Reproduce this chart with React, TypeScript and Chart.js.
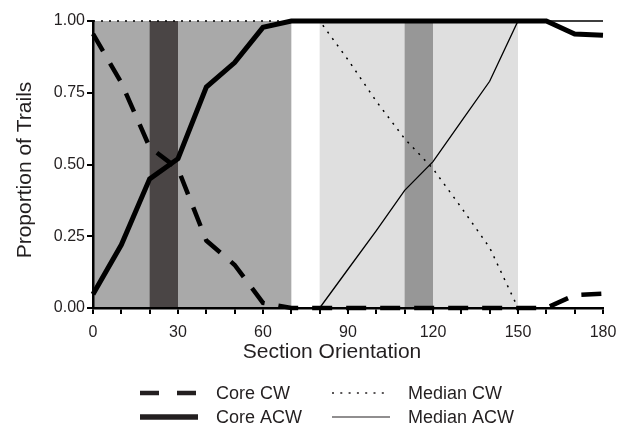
import React, { useEffect, useRef } from "react";
import { Chart, registerables } from "chart.js";

Chart.register(...registerables);

const xValues = [0, 10, 20, 30, 40, 50, 60, 70, 80, 90, 100, 110, 120, 130, 140, 150, 160, 170, 180];
const coreCW = [0.955, 0.785, 0.56, 0.485, 0.235, 0.15, 0.018, 0, 0, 0, 0, 0, 0, 0, 0, 0, 0, 0.045, 0.05];
const coreACW = [0.048, 0.22, 0.45, 0.52, 0.77, 0.855, 0.978, 1, 1, 1, 1, 1, 1, 1, 1, 1, 1, 0.955, 0.95];
const medianCW = [1, 1, 1, 1, 1, 1, 1, 1, 1, 0.865, 0.72, 0.59, 0.485, 0.35, 0.21, 0, 0, 0, 0];
const medianACW = [0, 0, 0, 0, 0, 0, 0, 0, 0, 0.135, 0.27, 0.41, 0.51, 0.65, 0.79, 1, 1, 1, 1];

// shaded bands: [from, to]
const bandStarts = [0, 20, 80, 110];
const bandEnds = [70, 30, 150, 120];
const bandColors = ["#a9a9a9", "#4a4545", "#dfdfdf", "#979797"];

const seriesNames = ["Core CW", "Core ACW", "Median CW", "Median ACW"];
const xTitle = "Section Orientation";
const yTitle = "Proportion of Trails";

const FONT = "'Liberation Sans', Arial, sans-serif";
const TEXT = "#231f20";

const toPoints = (ys: number[]) => xValues.map((x, i) => ({ x, y: ys[i] }));

const bandsPlugin = {
  id: "bands",
  beforeDraw(chart: any) {
    const { ctx, chartArea, scales } = chart;
    const xs = scales.x;
    ctx.save();
    for (let i = 0; i < bandStarts.length; i++) {
      const x0 = xs.getPixelForValue(bandStarts[i]);
      const x1 = xs.getPixelForValue(bandEnds[i]);
      ctx.fillStyle = bandColors[i];
      ctx.fillRect(x0, chartArea.top, x1 - x0, chartArea.bottom - chartArea.top);
    }
    ctx.restore();
  },
};

const legendPlugin = {
  id: "customLegend",
  afterDraw(chart: any) {
    const { ctx } = chart;
    const items = [
      { name: seriesNames[0], col: 0, row: 0, width: 4.5, dash: [19, 18] },
      { name: seriesNames[1], col: 0, row: 1, width: 5.5, dash: [] },
      { name: seriesNames[2], col: 1, row: 0, width: 1.5, dash: [2, 6.3] },
      { name: seriesNames[3], col: 1, row: 1, width: 1.2, dash: [] },
    ];
    const colX = [140, 332];
    const rowY = [393, 417];
    ctx.save();
    ctx.font = `18px ${FONT}`;
    ctx.textBaseline = "middle";
    ctx.textAlign = "left";
    for (const it of items) {
      const x = colX[it.col];
      const y = rowY[it.row];
      ctx.strokeStyle = TEXT;
      ctx.lineWidth = it.width;
      ctx.setLineDash(it.dash);
      ctx.lineCap = "butt";
      ctx.beginPath();
      ctx.moveTo(x, y);
      ctx.lineTo(x + 58, y);
      ctx.stroke();
      ctx.setLineDash([]);
      ctx.fillStyle = TEXT;
      ctx.fillText(it.name, x + 76, y + 1);
    }
    // axis titles
    ctx.font = `21px ${FONT}`;
    ctx.textAlign = "center";
    ctx.textBaseline = "middle";
    ctx.fillText(xTitle, 332, 352);
    ctx.translate(25, 170);
    ctx.rotate(-Math.PI / 2);
    ctx.fillText(yTitle, 0, 0);
    ctx.restore();
  },
};

export default function App() {
  const ref = useRef<HTMLCanvasElement | null>(null);

  useEffect(() => {
    document.body.style.margin = "0";
    if (!ref.current) return;
    const chart = new Chart(ref.current, {
      type: "line",
      data: {
        datasets: [
          {
            label: seriesNames[2],
            data: toPoints(medianCW),
            borderColor: "#000",
            borderWidth: 1.5,
            borderDash: [2, 6],
            pointRadius: 0,
            tension: 0,
            clip: false as any,
          },
          {
            label: seriesNames[3],
            data: toPoints(medianACW),
            borderColor: "#000",
            borderWidth: 1.3,
            pointRadius: 0,
            tension: 0,
            clip: false as any,
          },
          {
            label: seriesNames[0],
            data: toPoints(coreCW),
            borderColor: "#000",
            borderWidth: 4.5,
            borderDash: [20, 14],
            pointRadius: 0,
            tension: 0,
            clip: false as any,
          },
          {
            label: seriesNames[1],
            data: toPoints(coreACW),
            borderColor: "#000",
            borderWidth: 5,
            pointRadius: 0,
            tension: 0,
            clip: false as any,
          },
        ],
      },
      options: {
        animation: false,
        responsive: false,
        maintainAspectRatio: false,
        events: [],
        layout: { padding: { top: 21, right: 18, left: 0, bottom: 0 } },
        plugins: { legend: { display: false }, tooltip: { enabled: false } },
        scales: {
          x: {
            type: "linear",
            min: 0,
            max: 180,
            afterFit: (s: any) => {
              s.height = 116;
              s.paddingLeft = 0;
              s.paddingRight = 0;
            },
            border: { display: true, color: "#000", width: 2.5 },
            grid: { drawOnChartArea: false, drawTicks: true, tickLength: 6, color: "#000", lineWidth: 2 },
            ticks: {
              stepSize: 10,
              autoSkip: false,
              maxRotation: 0,
              padding: 9,
              color: TEXT,
              font: { family: FONT, size: 16 },
              callback: (v: any) => (Number(v) % 30 === 0 ? String(v) : ""),
            },
            title: { display: false },
          },
          y: {
            type: "linear",
            min: 0,
            max: 1,
            afterFit: (s: any) => {
              s.width = 93;
              s.paddingTop = 0;
              s.paddingBottom = 0;
            },
            border: { display: true, color: "#000", width: 2.5 },
            grid: { drawOnChartArea: false, drawTicks: true, tickLength: 6, color: "#000", lineWidth: 2 },
            ticks: {
              stepSize: 0.25,
              padding: 2,
              color: TEXT,
              font: { family: FONT, size: 16 },
              callback: (v: any) => Number(v).toFixed(2),
            },
            title: { display: false },
          },
        },
      },
      plugins: [bandsPlugin, legendPlugin],
    });
    return () => chart.destroy();
  }, []);

  return (
    <div style={{ width: 621, height: 424, position: "relative" }}>
      <canvas ref={ref} width={621} height={424} style={{ width: 621, height: 424, display: "block" }} />
    </div>
  );
}
